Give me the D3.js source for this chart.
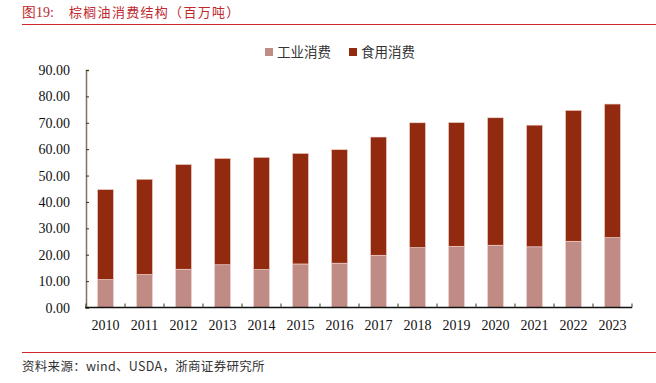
<!DOCTYPE html>
<html>
<head>
<meta charset="utf-8">
<script src="https://cdn.jsdelivr.net/npm/d3@7"></script>
<style>
  body { margin: 0; background: #fff; }
  svg { display: block; }
</style>
</head>
<body>
<div id="chart"></div>
<script>
// values (million tonnes)
var years = ["2010","2011","2012","2013","2014","2015","2016","2017","2018","2019","2020","2021","2022","2023"];
var industrial = [10.6, 12.5, 14.5, 16.2, 14.4, 16.5, 16.8, 19.8, 22.7, 23.2, 23.6, 23.0, 25.1, 26.5];
var food = [34.1, 36.1, 39.7, 40.3, 42.5, 41.9, 43.0, 44.8, 47.3, 46.9, 48.3, 46.1, 49.6, 50.6];
var seriesNames = ["工业消费", "食用消费"];
var seriesColors = ["#c08a85", "#922a10"];
var yTicks = [0, 10, 20, 30, 40, 50, 60, 70, 80, 90];

var W = 656, H = 383;
var svg = d3.select("#chart").append("svg").attr("width", W).attr("height", H);

var serif = "'Liberation Serif', 'Times New Roman', serif";
var cjk = "'Noto Sans CJK SC', sans-serif";

// title + rules
svg.append("text").attr("x", 22).attr("y", 17)
  .attr("fill", "#c0282d").style("font-family", serif).style("font-size", "14px")
  .text("图19:");
svg.append("text").attr("x", 69).attr("y", 17)
  .attr("fill", "#c0282d").style("font-family", cjk).style("font-size", "13px")
  .style("letter-spacing", "1.3px")
  .text("棕榈油消费结构（百万吨）");
svg.append("line").attr("x1", 22).attr("x2", 656).attr("y1", 24.5).attr("y2", 24.5)
  .attr("stroke", "#d0282d").attr("stroke-width", 1);
svg.append("line").attr("x1", 22).attr("x2", 656).attr("y1", 352.5).attr("y2", 352.5)
  .attr("stroke", "#d0282d").attr("stroke-width", 1);
svg.append("text").attr("x", 22).attr("y", 371)
  .attr("fill", "#333").style("font-family", cjk).style("font-size", "12.5px")
  .style("letter-spacing", "0.3px")
  .text("资料来源：wind、USDA，浙商证券研究所");

var x = d3.scaleBand().domain(years).range([86, 632]).paddingInner(0.59).paddingOuter(0.295);
var y = d3.scaleLinear().domain([0, 90]).range([307.5, 70]);

var rows = years.map(function(yr, i) {
  return { year: yr, industrial: industrial[i], food: food[i] };
});
var stack = d3.stack().keys(["industrial", "food"]);
var layers = stack(rows);

var g = svg.append("g");
g.selectAll("g.layer")
  .data(layers)
  .enter().append("g")
  .attr("class", "layer")
  .attr("fill", function(d, i) { return seriesColors[i]; })
  .selectAll("rect")
  .data(function(d) { return d; })
  .enter().append("rect")
  .attr("x", function(d) { return x(d.data.year); })
  .attr("width", x.bandwidth())
  .attr("y", function(d) { return y(d[1]); })
  .attr("height", function(d) { return y(d[0]) - y(d[1]); })
  .attr("stroke", "#f2d6d3")
  .attr("stroke-width", 0.6);

// y axis
var yAxis = svg.append("g").attr("transform", "translate(86,0)")
  .call(d3.axisRight(y).tickValues(yTicks).tickSize(3).tickFormat(""));
yAxis.select(".domain").attr("stroke", "#7f7558").attr("stroke-width", 1.5);
yAxis.selectAll(".tick line").attr("stroke", "#3a3520");
svg.append("g").selectAll("text")
  .data(yTicks)
  .enter().append("text")
  .attr("x", 70).attr("y", function(d) { return y(d) + 5; })
  .attr("text-anchor", "end")
  .style("font-family", serif).style("font-size", "14px").attr("fill", "#111")
  .text(function(d) { return d.toFixed(2); });

// x axis
var xEdges = years.map(function(yr) { return x(yr) - x.step() * x.paddingInner() / 2; });
xEdges.push(632);
var xAxis = svg.append("g");
xAxis.append("line").attr("x1", 85).attr("x2", 632).attr("y1", y(0)).attr("y2", y(0))
  .attr("stroke", "#111").attr("stroke-width", 1.5);
xAxis.selectAll("line.tk")
  .data(xEdges)
  .enter().append("line").attr("class", "tk")
  .attr("x1", function(d) { return d; }).attr("x2", function(d) { return d; })
  .attr("y1", y(0)).attr("y2", y(0) - 4)
  .attr("stroke", "#3a3520");
xAxis.selectAll("text")
  .data(years)
  .enter().append("text")
  .attr("x", function(d) { return x(d) + x.bandwidth() / 2; })
  .attr("y", 330)
  .attr("text-anchor", "middle")
  .style("font-family", serif).style("font-size", "14px").attr("fill", "#111")
  .text(function(d) { return d; });

// legend
var legend = svg.append("g");
var legendX = [265, 349];
seriesNames.forEach(function(name, i) {
  legend.append("rect").attr("x", legendX[i]).attr("y", 48).attr("width", 8).attr("height", 8)
    .attr("fill", seriesColors[i]);
  legend.append("text").attr("x", legendX[i] + 12).attr("y", 57)
    .style("font-family", cjk).style("font-size", "13.5px").attr("fill", "#333")
    .text(name);
});
</script>
</body>
</html>
